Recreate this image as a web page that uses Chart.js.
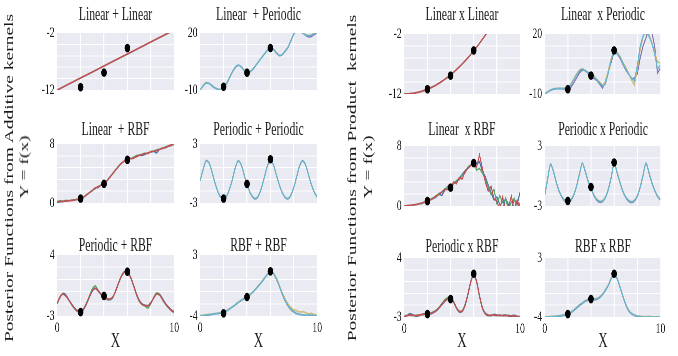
<!DOCTYPE html>
<html><head><meta charset="utf-8">
<script src="https://cdn.jsdelivr.net/npm/chart.js"></script>
<style>
html,body{margin:0;padding:0;background:#fff;overflow:hidden;width:678px;height:356px;}
#fig{position:absolute;left:0;top:0;width:1044px;height:356px;transform:scaleX(0.65);transform-origin:0 0;}
.t{position:absolute;font-family:'Liberation Serif','Times New Roman',serif;color:#1a1a1a;white-space:pre;text-align:center;}
canvas{position:absolute;}
</style></head><body><div id="fig"></div>
<script>
// ---------------- data ----------------
const TITLES = ['Linear + Linear','Linear  + Periodic','Linear  + RBF','Periodic + Periodic','Periodic + RBF','RBF + RBF',
                'Linear x Linear','Linear  x Periodic','Linear  x RBF','Periodic x Periodic','Periodic x RBF','RBF x RBF'];
const Y_MIN = [-12,-10,0,-3,-3,-4,-12,-10,0,-3,-3,-4];
const Y_MAX = [-2,20,8,3,4,3,-2,20,8,3,4,3];
const X_TICKS = [0,10];
const GROUP_LABELS = ['Posterior Functions from Additive kernels','Posterior Functions from Product  kernels'];
const Y_SUB = 'Y = f(x)';
const X_LABEL = 'X';

const X_GRID = [0,0.25,0.5,0.75,1,1.25,1.5,1.75,2,2.25,2.5,2.75,3,3.25,3.5,3.75,4,4.25,4.5,4.75,5,5.25,5.5,5.75,6,6.25,6.5,6.75,7,7.25,7.5,7.75,8,8.25,8.5,8.75,9,9.25,9.5,9.75,10];
const X_OBS = [2,4,6];

// observations (black dots)
const obsAddLinLin = [-11.5,-8.95,-4.64];
const obsAddLinPer = [-8.3,-0.9,12.1];
const obsAddLinRbf = [0.6,2.6,5.86];
const obsAddPerPer = [-2.55,-1.06,1.45];
const obsAddPerRbf = [-2.55,-0.7,2.08];
const obsAddRbfRbf = [-3.69,-1.82,1.13];
const obsMulLinLin = [-11.2,-8.94,-4.74];
const obsMulLinPer = [-7.6,-0.8,11.8];
const obsMulLinRbf = [0.66,2.45,5.73];
const obsMulPerPer = [-2.49,-1.1,1.35];
const obsMulPerRbf = [-2.65,-0.87,2.13];
const obsMulRbfRbf = [-3.65,-1.87,1.13];

// posterior samples
const addLinLin = [-12.0,-11.74,-11.47,-11.21,-10.95,-10.68,-10.42,-10.16,-9.89,-9.63,-9.37,-9.10,-8.84,-8.58,-8.31,-8.05,-7.79,-7.52,-7.26,-7.00,-6.74,-6.47,-6.21,-5.95,-5.68,-5.42,-5.16,-4.89,-4.63,-4.37,-4.10,-3.84,-3.58,-3.31,-3.05,-2.79,-2.52,-2.26,-2.00,-1.74,-1.47];

const addLinPer1 = [-10.0,-7.9,-6.4,-6.5,-7.6,-8.8,-9.5,-9.8,-8.7,-6.7,-3.7,-0.6,1.8,2.9,2.3,0.4,-0.8,-0.4,0.9,2.9,5.0,7.1,9.1,11.0,12.2,11.6,9.7,8.3,8.5,10.3,12.3,15.8,19.3,21.3,21.6,20.3,18.8,18.0,18.2,19.3,20.2];
const addLinPer2 = [-10.0,-7.6,-6.1,-6.6,-7.9,-9.0,-9.6,-9.7,-8.5,-6.3,-3.4,-0.3,2.1,3.1,2.1,0.2,-0.8,-0.2,1.1,3.1,5.1,7.0,8.9,10.9,12.3,11.4,9.4,8.1,8.7,10.6,12.6,16.2,19.6,21.6,21.4,19.9,19.2,18.8,19.0,20.0,20.7];
const addLinPer3 = [-10.0,-7.8,-6.3,-6.6,-7.8,-8.9,-9.6,-9.8,-8.6,-6.5,-3.5,-0.5,2.0,3.0,2.2,0.3,-0.8,-0.3,1.0,3.0,5.0,7.0,9.0,11.0,12.3,11.5,9.5,8.2,8.6,10.5,12.5,16.0,19.5,21.5,21.5,20.0,19.0,18.5,18.8,19.8,20.5];

const addLinRbf1 = [0.1,0.15,0.25,0.25,0.32,0.35,0.42,0.5,0.58,0.78,1.1,1.42,1.72,2.05,2.1,2.45,2.58,3.05,3.52,4.02,4.52,5.0,5.42,5.72,5.88,6.0,6.1,6.25,6.5,6.45,6.6,6.8,6.9,7.0,6.8,7.3,7.4,7.55,7.7,7.8,8.05];
const addLinRbf2 = [0.2,0.3,0.25,0.35,0.3,0.4,0.45,0.5,0.62,0.8,1.05,1.4,1.68,1.95,2.25,2.4,2.62,3.0,3.45,4.0,4.48,4.95,5.4,5.7,5.95,6.0,6.2,6.4,6.5,6.6,6.75,6.7,7.0,7.05,7.2,7.3,7.4,7.6,7.75,7.9,7.95];
const addLinRbf3 = [0.15,0.22,0.2,0.3,0.28,0.38,0.4,0.52,0.6,0.82,1.1,1.38,1.7,2.02,2.2,2.42,2.6,3.02,3.5,3.98,4.5,5.02,5.4,5.68,5.9,6.02,6.05,6.3,6.45,6.55,6.7,6.75,6.95,7.0,7.1,7.25,7.45,7.5,7.7,7.85,8.0];

const addPerPer1 = [-0.72,0.38,1.28,1.08,0.18,-0.92,-1.82,-2.42,-2.58,-2.32,-1.62,-0.62,0.58,1.28,0.88,-0.12,-1.12,-1.92,-2.42,-2.58,-2.22,-1.42,-0.32,0.78,1.33,0.88,-0.12,-1.12,-1.92,-2.42,-2.58,-2.22,-1.42,-0.32,0.78,1.28,0.88,-0.12,-1.12,-1.92,-2.42];
const addPerPer2 = [-0.68,0.42,1.32,1.12,0.22,-0.88,-1.78,-2.38,-2.52,-2.28,-1.58,-0.58,0.62,1.32,0.92,-0.08,-1.08,-1.88,-2.38,-2.52,-2.18,-1.38,-0.28,0.82,1.37,0.92,-0.08,-1.08,-1.88,-2.38,-2.52,-2.18,-1.38,-0.28,0.82,1.32,0.92,-0.08,-1.08,-1.88,-2.38];
const addPerPer3 = [-0.7,0.4,1.3,1.1,0.2,-0.9,-1.8,-2.4,-2.55,-2.3,-1.6,-0.6,0.6,1.3,0.9,-0.1,-1.1,-1.9,-2.4,-2.55,-2.2,-1.4,-0.3,0.8,1.35,0.9,-0.1,-1.1,-1.9,-2.4,-2.55,-2.2,-1.4,-0.3,0.8,1.3,0.9,-0.1,-1.1,-1.9,-2.4];

const addPerRbf1 = [-1.6,-0.85,-0.4,-0.6,-1.15,-1.65,-2.1,-2.4,-2.55,-2.25,-1.65,-0.85,-0.15,0.15,-0.15,-0.55,-0.85,-1.1,-1.15,-0.9,-0.05,0.85,1.65,2.1,2.0,1.55,0.65,-0.35,-1.15,-1.6,-1.75,-1.8,-1.45,-0.95,-0.45,-0.5,-1.0,-1.55,-1.95,-2.3,-2.5];
const addPerRbf2 = [-1.5,-0.75,-0.5,-0.75,-1.2,-1.75,-2.2,-2.5,-2.45,-2.15,-1.5,-0.7,0.1,0.45,-0.05,-0.5,-0.75,-1.05,-1.1,-0.85,-0.15,0.75,1.55,2.0,2.1,1.45,0.55,-0.5,-1.3,-1.7,-1.85,-2.1,-1.6,-0.85,-0.35,-0.55,-1.15,-1.65,-2.05,-2.4,-2.6];
const addPerRbf3 = [-1.55,-0.8,-0.45,-0.7,-1.2,-1.7,-2.15,-2.45,-2.5,-2.2,-1.6,-0.8,-0.1,0.2,-0.1,-0.5,-0.8,-1.0,-1.05,-0.8,-0.1,0.8,1.6,2.05,2.05,1.5,0.6,-0.4,-1.2,-1.65,-1.8,-1.85,-1.5,-0.9,-0.5,-0.6,-1.1,-1.6,-2.0,-2.35,-2.55];

const addRbfRbf1 = [-4.0,-3.97,-3.92,-3.88,-3.82,-3.77,-3.72,-3.67,-3.62,-3.42,-3.22,-2.97,-2.72,-2.47,-2.22,-2.02,-1.82,-1.57,-1.27,-0.92,-0.52,-0.12,0.32,0.78,1.08,0.88,0.25,-0.55,-1.45,-2.25,-2.85,-3.3,-3.55,-3.72,-3.82,-3.88,-3.92,-3.93,-3.95,-3.97,-3.98];
const addRbfRbf2 = [-3.95,-3.9,-3.85,-3.8,-3.78,-3.72,-3.66,-3.6,-3.55,-3.38,-3.15,-2.92,-2.68,-2.4,-2.18,-1.95,-1.78,-1.5,-1.22,-0.85,-0.45,-0.05,0.4,0.82,1.1,0.95,0.4,-0.4,-1.3,-2.0,-2.6,-3.0,-3.3,-3.4,-3.55,-3.5,-3.6,-3.75,-3.7,-3.85,-3.9];
const addRbfRbf3 = [-4.0,-3.95,-3.9,-3.85,-3.8,-3.75,-3.7,-3.65,-3.6,-3.4,-3.2,-2.95,-2.7,-2.45,-2.2,-2.0,-1.8,-1.55,-1.25,-0.9,-0.5,-0.1,0.35,0.8,1.1,0.9,0.3,-0.5,-1.4,-2.2,-2.8,-3.25,-3.5,-3.7,-3.8,-3.85,-3.9,-3.9,-3.9,-3.95,-3.95];

const mulLinLin = [-12.0,-11.99,-11.95,-11.89,-11.8,-11.69,-11.55,-11.39,-11.2,-10.99,-10.75,-10.49,-10.2,-9.89,-9.55,-9.19,-8.8,-8.39,-7.95,-7.49,-7.0,-6.49,-5.95,-5.39,-4.8,-4.19,-3.55,-2.89,-2.2,-1.49,-0.75,0.01,0.8];

const mulLinPer1 = [-10.0,-9.0,-8.2,-7.6,-7.4,-7.3,-7.4,-7.6,-7.8,-6.8,-4.5,-2.0,0.5,2.0,1.8,0.8,-0.8,-2.2,-3.2,-5.0,-7.0,-3.5,1.5,6.0,11.0,10.2,8.0,5.0,2.0,0.0,-2.5,-2.0,0.0,8.0,14.0,18.0,23.0,21.0,14.0,0.5,3.0];
const mulLinPer2 = [-10.0,-9.0,-8.0,-7.4,-7.2,-7.1,-7.1,-7.2,-7.3,-5.0,-2.5,0.0,2.0,2.7,1.8,0.0,-0.6,-1.0,-2.5,-4.0,-5.5,-4.0,2.0,8.0,12.0,11.0,9.0,6.0,3.5,0.5,-3.0,-5.5,2.0,12.0,18.5,21.5,20.0,16.0,11.0,6.0,5.5];
const mulLinPer3 = [-10.0,-9.0,-8.0,-7.5,-7.3,-7.2,-7.2,-7.2,-7.5,-5.5,-3.0,-0.5,1.5,2.5,1.5,0.5,-0.5,-1.5,-3.0,-4.5,-6.0,-5.0,0.5,7.0,11.8,10.5,8.5,5.5,2.5,0.0,-2.0,-3.5,4.0,14.0,19.0,21.0,19.0,15.5,10.0,2.5,4.5];

const mulLinRbf1 = [0.0,0.03,0.07,0.1,0.18,0.28,0.4,0.55,0.65,0.85,1.0,1.2,1.6,1.4,2.1,2.6,2.45,3.1,3.3,3.7,4.2,4.7,5.1,5.5,6.0,5.6,5.9,4.6,3.9,2.8,1.8,0.8,1.2,0.2,-0.6,1.0,0.2,-0.5,0.9,0.2,1.8];
const mulLinRbf2 = [0.0,0.05,0.08,0.12,0.2,0.25,0.35,0.5,0.6,0.9,1.1,1.3,1.7,1.8,2.3,2.4,2.5,2.9,3.4,3.5,4.1,4.4,5.2,5.5,5.7,4.8,5.0,4.4,3.6,2.5,1.5,2.2,0.3,1.4,0.5,0.9,-0.4,0.5,1.0,-0.5,0.4];
const mulLinRbf3 = [0.0,0.05,0.1,0.15,0.2,0.3,0.35,0.5,0.65,0.8,1.0,1.4,1.5,1.9,2.2,2.2,2.5,3.2,3.0,3.8,3.6,4.6,5.0,5.4,5.6,5.2,6.8,5.0,3.2,2.0,2.6,1.0,0.6,-0.5,1.2,-0.8,-0.2,1.3,-0.6,0.8,-0.3];

const mulPerPer1 = [-1.95,-0.35,1.18,0.45,-0.65,-1.55,-2.15,-2.52,-2.62,-2.46,-1.95,-1.05,0.15,1.28,0.45,-0.55,-1.25,-1.95,-2.42,-2.62,-2.56,-2.15,-1.35,-0.15,1.28,0.35,-0.65,-1.55,-2.15,-2.52,-2.66,-2.5,-2.05,-1.15,0.05,1.28,0.35,-0.65,-1.45,-2.05,-2.4];
const mulPerPer2 = [-1.88,-0.28,1.2,0.52,-0.58,-1.48,-2.08,-2.42,-2.5,-2.36,-1.88,-0.98,0.22,1.3,0.52,-0.48,-1.18,-1.88,-2.32,-2.5,-2.46,-2.08,-1.28,-0.08,1.3,0.42,-0.58,-1.48,-2.08,-2.42,-2.56,-2.42,-1.98,-1.08,0.12,1.3,0.42,-0.58,-1.38,-1.98,-2.32];
const mulPerPer3 = [-1.9,-0.3,1.2,0.5,-0.6,-1.5,-2.1,-2.45,-2.55,-2.4,-1.9,-1.0,0.2,1.3,0.5,-0.5,-1.2,-1.9,-2.35,-2.55,-2.5,-2.1,-1.3,-0.1,1.3,0.4,-0.6,-1.5,-2.1,-2.45,-2.6,-2.45,-2.0,-1.1,0.1,1.3,0.4,-0.6,-1.4,-2.0,-2.35];

const mulPerRbf1 = [-3.0,-2.8,-2.6,-2.75,-2.9,-2.85,-2.7,-2.6,-2.62,-2.65,-2.5,-2.3,-1.95,-1.55,-1.15,-0.9,-0.85,-1.25,-1.95,-2.4,-2.35,-1.65,-0.35,1.15,2.1,1.25,-0.45,-1.85,-2.55,-2.75,-2.85,-2.7,-2.75,-2.85,-2.8,-2.75,-2.9,-2.85,-2.8,-2.9,-3.0];
const mulPerRbf2 = [-2.9,-2.8,-2.8,-2.85,-2.8,-2.75,-2.75,-2.7,-2.6,-2.55,-2.4,-2.2,-1.85,-1.4,-0.95,-0.7,-0.7,-1.1,-1.85,-2.3,-2.25,-1.5,-0.2,1.25,2.05,1.1,-0.6,-2.0,-2.65,-2.85,-2.75,-2.8,-2.85,-2.75,-2.85,-2.85,-2.8,-2.9,-2.9,-2.95,-2.95];
const mulPerRbf3 = [-2.95,-2.85,-2.75,-2.8,-2.85,-2.8,-2.7,-2.65,-2.6,-2.6,-2.45,-2.25,-1.9,-1.5,-1.1,-0.85,-0.8,-1.2,-1.9,-2.35,-2.3,-1.6,-0.3,1.2,2.1,1.2,-0.5,-1.9,-2.6,-2.8,-2.8,-2.75,-2.8,-2.8,-2.85,-2.8,-2.85,-2.9,-2.85,-2.95,-3.0];

const mulRbfRbf1 = [-4.0,-4.0,-3.99,-3.97,-3.94,-3.9,-3.85,-3.78,-3.68,-3.5,-3.25,-2.95,-2.65,-2.4,-2.15,-2.0,-1.9,-1.95,-1.9,-1.7,-1.35,-0.85,-0.25,0.55,1.05,0.55,-0.45,-1.55,-2.55,-3.25,-3.62,-3.82,-3.92,-3.96,-4.0,-4.0,-4.0,-4.0,-4.0,-4.0,-4.0];
const mulRbfRbf2 = [-3.98,-3.96,-3.94,-3.9,-3.88,-3.84,-3.78,-3.7,-3.6,-3.4,-3.15,-2.85,-2.55,-2.3,-2.05,-1.9,-1.82,-1.85,-1.8,-1.6,-1.25,-0.75,-0.15,0.65,1.12,0.65,-0.35,-1.45,-2.45,-3.15,-3.55,-3.75,-3.85,-3.9,-3.95,-3.95,-3.92,-3.96,-3.98,-3.97,-4.0];
const mulRbfRbf3 = [-4.0,-4.0,-3.98,-3.95,-3.92,-3.88,-3.82,-3.75,-3.65,-3.45,-3.2,-2.9,-2.6,-2.35,-2.1,-1.95,-1.85,-1.9,-1.85,-1.65,-1.3,-0.8,-0.2,0.6,1.1,0.6,-0.4,-1.5,-2.5,-3.2,-3.6,-3.8,-3.9,-3.95,-4.0,-4.0,-4.0,-4.0,-4.0,-4.0,-4.0];

const SERIES = [
  [addLinLin,addLinLin,addLinLin],[addLinPer1,addLinPer2,addLinPer3],
  [addLinRbf1,addLinRbf2,addLinRbf3],[addPerPer1,addPerPer2,addPerPer3],
  [addPerRbf1,addPerRbf2,addPerRbf3],[addRbfRbf1,addRbfRbf2,addRbfRbf3],
  [mulLinLin,mulLinLin,mulLinLin],[mulLinPer1,mulLinPer2,mulLinPer3],
  [mulLinRbf1,mulLinRbf2,mulLinRbf3],[mulPerPer1,mulPerPer2,mulPerPer3],
  [mulPerRbf1,mulPerRbf2,mulPerRbf3],[mulRbfRbf1,mulRbfRbf2,mulRbfRbf3]
];
const OBS = [obsAddLinLin,obsAddLinPer,obsAddLinRbf,obsAddPerPer,obsAddPerRbf,obsAddRbfRbf,
             obsMulLinLin,obsMulLinPer,obsMulLinRbf,obsMulPerPer,obsMulPerRbf,obsMulRbfRbf];

// ---------------- layout / style ----------------
const K = 0.65;                       // horizontal squash of the whole figure
const RECTS = [[57,32,117,59],[200,32,117,59],[57,143,117,61],[200,143,117,61],[57,254,117,62],[200,254,117,62],
               [404,33,116,62],[545,33,116,62],[404,145,116,62],[545,145,116,62],[404,257,116,60],[545,257,116,60]];
const TITLE_Y = [14,14,129,129,245,245,14,14,129,129,246,246];
const PAL = [['#4C72B0','#55A868','#C44E52'],['#8172B2','#CCB974','#64B5CD']];
const TENSION = [0,0.3,0.15,0.3,0.3,0.3,0.3,0,0,0.25,0.3,0.3];
const FONT = "'Liberation Serif','Times New Roman',serif";
const fig = document.getElementById('fig');

const bgPlugin = {id:'bg', beforeDraw(c){const a=c.chartArea,x=c.ctx;x.save();x.fillStyle='#EAEAF2';x.fillRect(a.left,a.top,a.right-a.left,a.bottom-a.top);x.restore();}};

function txt(s, left, top, w, h, size, extra){
  const d=document.createElement('div'); d.className='t'; d.textContent=s;
  Object.assign(d.style,{left:left+'px',top:top+'px',width:w+'px',height:h+'px',lineHeight:h+'px',fontSize:size+'px'}, extra||{});
  fig.appendChild(d); return d;
}
function vlabel(s, cxOrig, cy, size){
  const d=document.createElement('div'); d.className='t'; d.textContent=s;
  Object.assign(d.style,{left:(cxOrig/K)+'px',top:cy+'px',fontSize:size+'px',lineHeight:'1',transform:'translate(-50%,-50%) rotate(-90deg)'});
  fig.appendChild(d);
}

const AX=45, PT=12, PR=14, PB=12, XB=24;
RECTS.forEach((r,i)=>{
  const [L,T,W,H]=r; const col=i%2; const row=Math.floor((i%6)/2); const bottom=row===2;
  const Lu=L/K, Wu=W/K;
  const cw=Math.round(AX+Wu+PR), ch=PT+H+(bottom?XB:PB);
  const cv=document.createElement('canvas');
  cv.width=cw; cv.height=ch;
  cv.style.left=(Lu-AX)+'px'; cv.style.top=(T-PT)+'px';
  fig.appendChild(cv);
  const pal=PAL[col];
  const ds=SERIES[i].map((arr,j)=>({
    type:'line', order:3-j, data:arr.map((y,k)=>({x:X_GRID[k],y})), borderColor:pal[j], borderWidth:1.6,
    pointRadius:0, tension:TENSION[i], fill:false
  }));
  ds.push({type:'scatter', order:0, data:X_OBS.map((x,k)=>({x,y:OBS[i][k]})), pointRadius:4.3, pointHoverRadius:4.3,
           backgroundColor:'#000', pointBackgroundColor:'#000', pointBorderWidth:0, borderColor:'#000', clip:false});
  const ymin=Y_MIN[i], ymax=Y_MAX[i];
  new Chart(cv,{
    type:'line',
    data:{datasets:ds},
    options:{
      responsive:false, animation:false, devicePixelRatio:2,
      layout:{padding:{left:0,top:PT,right:PR,bottom:bottom?0:PB}},
      plugins:{legend:{display:false},tooltip:{enabled:false},title:{display:false}},
      scales:{
        x:{type:'linear',min:0,max:10,
           grid:{drawTicks:false,lineWidth:1.6,color:c=>(c.index===0||c.index===c.scale.ticks.length-1)?'rgba(0,0,0,0)':'#ffffff'},
           border:{display:false},
           ticks:{display:bottom,stepSize:2,autoSkip:false,maxRotation:0,padding:3,color:'#1a1a1a',font:{family:FONT,size:15},
                  callback:v=>X_TICKS.includes(v)?String(v):''},
           afterFit:s=>{s.height=bottom?XB:0;}},
        y:{type:'linear',min:ymin,max:ymax,
           grid:{drawTicks:false,lineWidth:1,color:c=>(c.index===0||c.index===c.scale.ticks.length-1)?'rgba(0,0,0,0)':'#ffffff'},
           border:{display:false},
           ticks:{stepSize:(ymax-ymin)/5,autoSkip:false,padding:4,color:'#1a1a1a',font:{family:FONT,size:15},
                  callback:(v,idx,t)=>idx===0?String(ymin):(idx===t.length-1?String(ymax):'')},
           afterFit:s=>{s.width=AX;}}
      }
    },
    plugins:[bgPlugin]
  });
  txt(TITLES[i], Lu, TITLE_Y[i]-11, Wu, 22, 18);
  if(bottom) txt(X_LABEL, Lu, 340-13, Wu, 26, 20);
});

vlabel(GROUP_LABELS[0], 9, 178, 19.5);
vlabel(Y_SUB, 24, 167, 19.5);
vlabel(GROUP_LABELS[1], 352, 178, 19.5);
vlabel(Y_SUB, 368, 167, 19.5);
</script></body></html>
